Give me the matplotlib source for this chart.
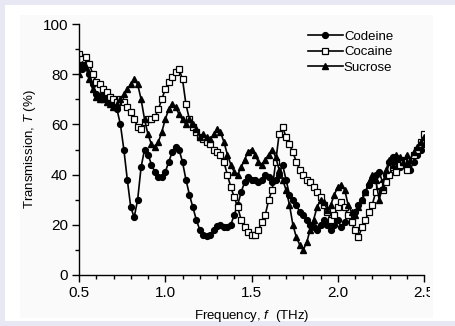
#!/usr/bin/env python3

import numpy as np
import matplotlib
matplotlib.use("Agg")
import matplotlib.pyplot as plt
from matplotlib.patches import Rectangle
from matplotlib.ticker import MultipleLocator
from matplotlib.transforms import Bbox, TransformedBbox

plt.rcParams['font.family'] = ['Liberation Sans', 'DejaVu Sans']
plt.rcParams['mathtext.fontset'] = 'custom'
plt.rcParams['mathtext.rm'] = 'Liberation Sans'
plt.rcParams['mathtext.it'] = 'Liberation Sans:italic'

# frequency grid (THz), one point every 0.02 THz
freq = [round(0.5 + 0.02 * i, 2) for i in range(101)]

codeine = [84, 82, 85, 80, 76, 72, 71, 72, 70, 69,
           68, 66, 60, 50, 38, 27, 23, 30, 43, 50,
           48, 44, 41, 39, 39, 41, 45, 49, 51, 50,
           45, 38, 32, 27, 22, 18, 16, 15.5, 16, 18,
           19.5, 20, 19, 19, 20, 24, 28, 33, 37, 39,
           38, 38, 37, 38, 40, 39, 37, 38, 40, 44,
           38, 32, 30, 28, 25, 24, 22, 20, 19, 18,
           20, 22, 20, 18, 20, 22, 19, 21, 24, 22,
           25, 28, 30, 33, 36, 38, 40, 41, 37, 40,
           45, 47, 45, 43, 46, 44, 42, 45, 48, 50,
           52]

cocaine = [88, 86, 87, 84, 80, 77, 76, 74, 73, 71,
           70, 69, 70, 69, 67, 65, 62, 59, 58, 61,
           62, 62, 63, 66, 70, 74, 77, 79, 81, 82,
           78, 68, 62, 59, 57, 55, 54, 53, 52, 50,
           49, 48, 45, 40, 35, 31, 27, 22, 19, 17,
           16, 16, 18, 21, 24, 30, 34, 45, 56, 59,
           55, 52, 49, 45, 42, 40, 38, 37, 35, 33,
           31, 28, 25, 22, 24, 27, 29, 27, 24, 21,
           18, 15, 19, 22, 25, 28, 33, 36, 34, 37,
           40, 43, 41, 44, 45, 42, 46, 48, 50, 53,
           56]

sucrose = [80, 84, 83, 78, 74, 71, 70, 70, 69, 68,
           67, 68, 70, 72, 74, 76, 78, 76, 70, 62,
           56, 52, 51, 53, 57, 62, 66, 68, 67, 64,
           62, 60, 62, 60, 58, 55, 56, 55, 54, 56,
           58, 57, 53, 48, 44, 41, 40, 43, 46, 49,
           50, 48, 45, 44, 46, 48, 50, 47, 42, 38,
           34, 28, 20, 15, 12, 10, 13, 18, 22, 27,
           30, 29, 26, 28, 32, 35, 36, 34, 28, 25,
           24, 27, 30, 33, 37, 40, 38, 30, 35, 42,
           46, 44, 48, 47, 45, 48, 46, 49, 51, 53,
           55]

W, H = 455, 326
fig = plt.figure(figsize=(W / 100, H / 100), dpi=100, facecolor='#e8e8f5')

# white card and slightly off-white plot panel (pixel coords, top origin)
def px_rect(x0, y0, x1, y1, color):
    fig.patches.append(Rectangle((x0 / W, 1 - y1 / H), (x1 - x0) / W, (y1 - y0) / H,
                                 transform=fig.transFigure, facecolor=color,
                                 edgecolor='none', zorder=-10))

px_rect(5, 5, W, 321, 'white')
px_rect(20, 15, 433, 318, '#fafafa')

ax = fig.add_axes([79 / W, 1 - 275 / H, (424 - 79) / W, (275 - 24) / H])
ax.set_facecolor('none')

ax.plot(freq, codeine, color='black', lw=1.2, marker='o', ms=4.2,
        mfc='black', mec='black', label='Codeine')
ax.plot(freq, cocaine, color='black', lw=1.2, marker='s', ms=3.9,
        mfc='white', mec='black', mew=0.9, label='Cocaine')
ax.plot(freq, sucrose, color='black', lw=1.2, marker='^', ms=4.6,
        mfc='black', mec='black', label='Sucrose')

ax.set_xlim(0.5, 2.5)
ax.set_ylim(0, 100)
ax.set_xticks([0.5, 1.0, 1.5, 2.0, 2.5])
ax.set_xticklabels(['0.5', '1.0', '1.5', '2.0', '2.5'])
ax.set_yticks([0, 20, 40, 60, 80, 100])
ax.xaxis.set_minor_locator(MultipleLocator(0.1))
ax.yaxis.set_minor_locator(MultipleLocator(10))
ax.tick_params(which='major', direction='out', length=5, width=1, labelsize=11, pad=3)
ax.tick_params(which='minor', direction='out', length=3, width=1)

for s in ['top', 'right']:
    ax.spines[s].set_visible(False)
for s in ['left', 'bottom']:
    ax.spines[s].set_linewidth(1)

ax.set_xlabel(r'Frequency, $\mathit{f}$  (THz)', fontsize=9.5, labelpad=6)
ax.set_ylabel(r'Transmission, $\mathit{T}$ (%)', fontsize=9.5, labelpad=3)

ax.legend(loc='upper left', bbox_to_anchor=((303 - 79) / (424 - 79), 0.995),
          frameon=False, fontsize=9.5, handlelength=2.6, handletextpad=0.1,
          labelspacing=0.25, borderaxespad=0)

# the right-most tick label is cut by the panel edge
clip = TransformedBbox(Bbox([[0, 0], [430 / W, 1]]), fig.transFigure)
for lab in ax.get_xticklabels():
    lab.set_clip_box(clip)
    lab.set_clip_on(True)

fig.savefig('out.png', dpi=100, facecolor=fig.get_facecolor())
